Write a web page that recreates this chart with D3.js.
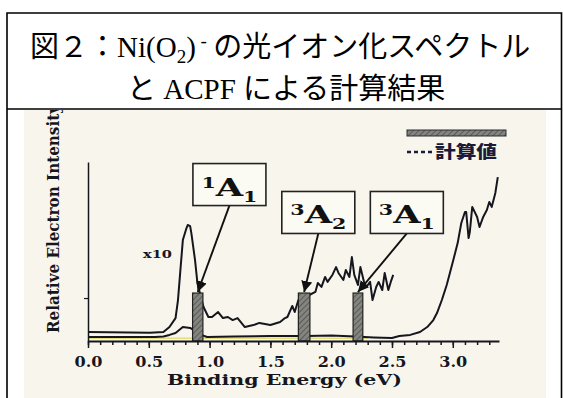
<!DOCTYPE html>
<html>
<head>
<meta charset="utf-8">
<script src="https://cdn.jsdelivr.net/npm/d3@7"></script>
<style>
  body { margin: 0; background: #fff; }
</style>
</head>
<body>
<div id="chart"></div>
<script>
// x10 expanded trace (binding energy in eV / relative intensity)
const x10Energy = [0, 0.51, 0.62, 0.67, 0.72, 0.74, 0.76, 0.78, 0.81, 0.82, 0.84, 0.85, 0.88, 0.90, 0.93, 0.95,
  0.99, 1.02, 1.04, 1.07, 1.11, 1.15, 1.19, 1.23, 1.29, 1.36, 1.41, 1.50, 1.58, 1.62, 1.64, 1.68, 1.70, 1.73,
  1.78, 1.82, 1.87, 1.89, 1.92, 1.95, 1.97, 2.01, 2.04, 2.06, 2.10, 2.12, 2.15, 2.17, 2.19, 2.22, 2.24, 2.27,
  2.29, 2.32, 2.34, 2.37, 2.39, 2.42, 2.44, 2.47, 2.49, 2.51];
const x10Intensity = [5.0, 4.6, 5.0, 7.8, 12.8, 22.9, 39.7, 56.4, 63.1, 64.8, 64.2, 60.3, 45.3, 32.4, 24.0, 19.0,
  13.4, 13.4, 14.5, 16.2, 12.8, 13.4, 11.7, 12.8, 7.8, 8.9, 10.1, 8.9, 10.6, 12.8, 13.4, 19.6, 16.2, 22.9,
  25.1, 25.7, 27.4, 32.4, 30.2, 35.8, 33.0, 36.9, 41.3, 38.0, 34.1, 39.7, 35.8, 46.9, 36.9, 31.3, 41.3, 33.0,
  30.2, 33.0, 22.9, 30.2, 33.0, 28.5, 38.0, 28.5, 33.0, 36.9];

// unscaled trace
const mainEnergy = [0, 0.55, 0.62, 0.67, 0.72, 0.78, 0.84, 0.88, 0.93, 0.98, 1.2, 1.5, 1.8, 2.0, 2.2, 2.35, 2.5,
  2.56, 2.65, 2.73, 2.79, 2.84, 2.87, 2.91, 2.95, 3.00, 3.04, 3.07, 3.10, 3.11, 3.13, 3.14, 3.16, 3.20, 3.22,
  3.25, 3.28, 3.30, 3.32, 3.35, 3.37];
const mainIntensity = [2.2, 2.2, 2.5, 3.4, 4.5, 7.8, 7.3, 5.6, 3.4, 2.2, 2.5, 2.8, 2.8, 3.1, 2.5, 2.0, 1.7,
  2.8, 3.4, 5.0, 7.8, 11.7, 15.6, 22.9, 31.3, 44.1, 54.7, 65.9, 72.1, 72.1, 57.5, 60.9, 74.9, 69.3, 63.7,
  69.3, 73.2, 77.7, 74.9, 82.7, 91.6];

// faint yellow trace near the baseline
const yellowEnergy = [0, 2.3];
const yellowIntensity = [1.5, 1.5];

// calculated (ACPF) states
const calcSup = ["1", "3", "3"];
const calcSub = ["1", "2", "1"];
const calcLow = [0.86, 1.73, 2.18];
const calcHigh = [0.945, 1.825, 2.26];
const calcHeight = [26.8, 26.8, 26.8];
const labelEnergy = [1.163, 1.894, 2.622];
const labelLevel = [87.4, 71.8, 71.8];

const xTicks = [0, 0.5, 1.0, 1.5, 2.0, 2.5, 3.0];
const xTickLabels = ["0.0", "0.5", "1.0", "1.5", "2.0", "2.5", "3.0"];
const yTicks = [24];

const W = 563, H = 398;
const svg = d3.select("#chart").append("svg")
  .attr("width", W).attr("height", H)
  .style("display", "block");

const defs = svg.append("defs");
const hatch = defs.append("pattern")
  .attr("id", "hatch").attr("width", 4).attr("height", 4)
  .attr("patternUnits", "userSpaceOnUse")
  .attr("patternTransform", "rotate(45)");
hatch.append("rect").attr("width", 4).attr("height", 4).attr("fill", "#85857f");
hatch.append("line").attr("x1", 0).attr("y1", 0).attr("x2", 0).attr("y2", 4)
  .attr("stroke", "#4a4a4a").attr("stroke-width", 1.5);

defs.append("marker")
  .attr("id", "head").attr("markerUnits", "userSpaceOnUse")
  .attr("viewBox", "0 0 10 10").attr("refX", 10).attr("refY", 5)
  .attr("markerWidth", 11).attr("markerHeight", 11)
  .attr("orient", "auto")
  .append("path").attr("d", "M0,0L10,5L0,10Z").attr("fill", "#111");

defs.append("clipPath").attr("id", "photo")
  .append("rect").attr("x", 24).attr("y", 110).attr("width", 522).attr("height", 288);

// title box
const cjk = "'Noto Sans CJK JP', sans-serif";
const serif = "'Liberation Serif', 'Times New Roman', serif";

const t1 = svg.append("text").attr("x", 30).attr("y", 57)
  .attr("font-size", 29).attr("fill", "#000");
t1.append("tspan").attr("font-family", cjk).text("図２：");
t1.append("tspan").attr("font-family", serif).text("Ni(O");
t1.append("tspan").attr("font-family", serif).attr("font-size", 19).attr("dy", 6).text("2");
t1.append("tspan").attr("font-family", serif).attr("dy", -6).text(")");
t1.append("tspan").attr("font-family", serif).attr("font-size", 19).attr("dy", -10).text(" -");
t1.append("tspan").attr("font-family", cjk).attr("dy", 10).text(" の光イオン化スペクトル");

const t2 = svg.append("text").attr("x", 127).attr("y", 99)
  .attr("font-size", 29).attr("fill", "#000");
t2.append("tspan").attr("font-family", cjk).text("と");
t2.append("tspan").attr("font-family", serif).text(" ACPF ");
t2.append("tspan").attr("font-family", cjk).text("による計算結果");

// scanned figure
const fig = svg.append("g").attr("clip-path", "url(#photo)");
fig.append("rect").attr("x", 24).attr("y", 110).attr("width", 522).attr("height", 288)
  .attr("fill", "#f8f6ec");

const x = d3.scaleLinear().domain([0, 3.38]).range([88, 499]);
const y = d3.scaleLinear().domain([0, 100]).range([341, 162]);

const figSerif = "'DejaVu Serif', serif";
const ink = "#16161e";

// yellow baseline trace
const line = d3.line().x(d => x(d[0])).y(d => y(d[1]));
fig.append("path")
  .attr("d", line(d3.zip(yellowEnergy, yellowIntensity)))
  .attr("fill", "none").attr("stroke", "#e2d864").attr("stroke-width", 1.5)
  .attr("stroke-opacity", 0.85);

// traces
fig.append("path")
  .attr("d", line(d3.zip(x10Energy, x10Intensity)))
  .attr("fill", "none").attr("stroke", ink).attr("stroke-width", 2)
  .attr("stroke-linejoin", "round");
fig.append("path")
  .attr("d", line(d3.zip(mainEnergy, mainIntensity)))
  .attr("fill", "none").attr("stroke", ink).attr("stroke-width", 2)
  .attr("stroke-linejoin", "round");

// calculated bars
const states = d3.range(calcLow.length).map(i => ({
  lo: calcLow[i], hi: calcHigh[i], h: calcHeight[i],
  sup: calcSup[i], sub: calcSub[i], le: labelEnergy[i], ll: labelLevel[i]
}));

fig.selectAll(".bar").data(states).enter().append("rect")
  .attr("class", "bar")
  .attr("x", d => x(d.lo)).attr("width", d => x(d.hi) - x(d.lo))
  .attr("y", d => y(d.h)).attr("height", d => y(0) - y(d.h))
  .attr("fill", "url(#hatch)").attr("stroke", "#222").attr("stroke-width", 1.2);

// axes
const xAxis = fig.append("g").attr("transform", "translate(0," + y(0) + ")")
  .call(d3.axisBottom(x).tickValues(xTicks).tickSize(7).tickSizeOuter(0).tickPadding(9)
    .tickFormat((d, i) => xTickLabels[i]));
xAxis.select(".domain").attr("stroke", ink).attr("stroke-width", 1.8);
xAxis.selectAll("line").attr("stroke", ink).attr("stroke-width", 1.5);
xAxis.selectAll("text")
  .attr("font-family", figSerif).attr("font-weight", "bold").attr("font-size", 14)
  .attr("fill", ink).attr("textLength", 28).attr("lengthAdjust", "spacingAndGlyphs");

const xMinor = fig.append("g").attr("transform", "translate(0," + y(0) + ")")
  .call(d3.axisBottom(x).tickValues(d3.range(0, 3.35, 0.1)).tickSize(4).tickSizeOuter(0).tickFormat(""));
xMinor.select(".domain").remove();
xMinor.selectAll("line").attr("stroke", ink).attr("stroke-width", 1.5);

const yAxis = fig.append("g").attr("transform", "translate(" + x(0) + ",0)")
  .call(d3.axisLeft(y).tickValues(yTicks).tickSize(4).tickSizeOuter(0).tickFormat(""));
yAxis.select(".domain").attr("stroke", ink).attr("stroke-width", 1.5);
yAxis.selectAll("line").attr("stroke", ink).attr("stroke-width", 1.2);

fig.append("text")
  .attr("x", 284.5).attr("y", 385).attr("text-anchor", "middle")
  .attr("font-family", figSerif).attr("font-weight", "bold").attr("font-size", 15)
  .attr("fill", ink).attr("textLength", 235).attr("lengthAdjust", "spacingAndGlyphs")
  .text("Binding Energy (eV)");

fig.append("text")
  .attr("transform", "translate(59,333) rotate(-90)")
  .attr("font-family", figSerif).attr("font-weight", "bold").attr("font-size", 17)
  .attr("fill", ink).attr("textLength", 228).attr("lengthAdjust", "spacingAndGlyphs")
  .text("Relative Electron Intensity");

fig.append("text")
  .attr("x", 143).attr("y", 258)
  .attr("font-family", figSerif).attr("font-weight", "bold").attr("font-size", 11)
  .attr("fill", ink).attr("textLength", 29).attr("lengthAdjust", "spacingAndGlyphs")
  .text("x10");

// legend
fig.append("rect").attr("x", 407).attr("y", 130).attr("width", 99).attr("height", 6)
  .attr("fill", "url(#hatch)").attr("stroke", "#2a2a3a").attr("stroke-width", 1);
fig.append("line").attr("x1", 407).attr("x2", 433).attr("y1", 152).attr("y2", 152)
  .attr("stroke", "#1a1a3a").attr("stroke-width", 2.5).attr("stroke-dasharray", "4,3");
fig.append("text").attr("x", 435).attr("y", 158)
  .attr("font-family", cjk).attr("font-weight", 900).attr("font-size", 17)
  .attr("fill", "#1a1a3a").attr("textLength", 62).attr("lengthAdjust", "spacingAndGlyphs")
  .text("計算値");

// state labels with arrows
const boxW = 73, boxH = 42;
fig.selectAll(".arrow").data(states).enter().append("line")
  .attr("class", "arrow")
  .attr("x1", d => x(d.le)).attr("y1", d => y(d.ll) + boxH / 2)
  .attr("x2", d => x((d.lo + d.hi) / 2)).attr("y2", d => y(d.h) - 1)
  .attr("stroke", "#111").attr("stroke-width", 1.9)
  .attr("marker-end", "url(#head)");

const lab = fig.selectAll(".lab").data(states).enter().append("g")
  .attr("class", "lab")
  .attr("transform", d => "translate(" + x(d.le) + "," + y(d.ll) + ")");
lab.append("rect")
  .attr("x", -boxW / 2).attr("y", -boxH / 2).attr("width", boxW).attr("height", boxH)
  .attr("fill", "#fbfaf3").attr("stroke", "#222").attr("stroke-width", 1.6);
const lt = lab.append("text")
  .attr("x", 0).attr("y", 11).attr("text-anchor", "middle")
  .attr("font-family", figSerif).attr("font-weight", "bold").attr("fill", "#111")
  .attr("textLength", 56).attr("lengthAdjust", "spacingAndGlyphs");
lt.append("tspan").attr("font-size", 14).attr("dy", -8).text(d => d.sup);
lt.append("tspan").attr("font-size", 24).attr("dy", 8).text("A");
lt.append("tspan").attr("font-size", 14).attr("dy", 6).text(d => d.sub);

// frame lines
const frame = svg.append("g").attr("stroke", "#000").attr("stroke-width", 1.6).attr("fill", "none");
frame.append("path").attr("d", "M7,398V13H561.5V398");
frame.append("line").attr("x1", 7).attr("x2", 561.5).attr("y1", 109).attr("y2", 109);
</script>
</body>
</html>
